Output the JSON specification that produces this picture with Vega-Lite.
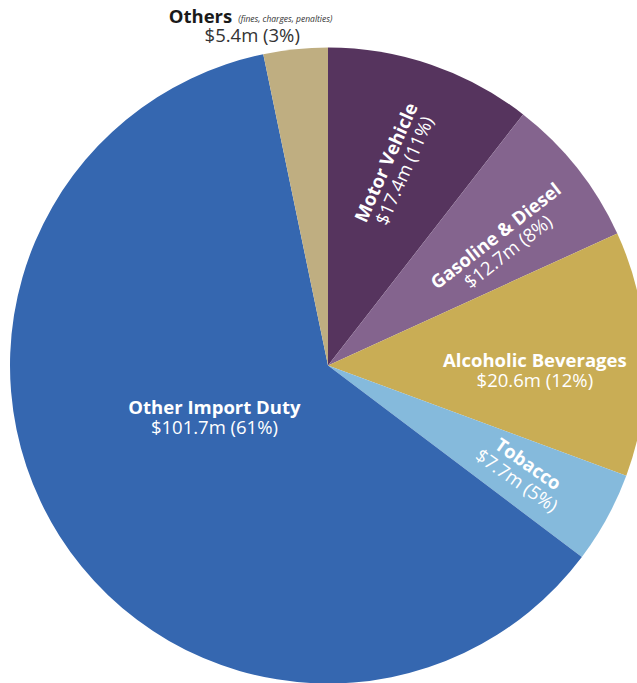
{
  "$schema": "https://vega.github.io/schema/vega-lite/v6.json",
  "autosize": {"type": "none"},
  "width": 618,
  "height": 635,
  "padding": {"left": 19, "top": 48, "right": 0, "bottom": 0},
  "background": "white",
  "config": {"view": {"stroke": null}, "text": {"font": "Open Sans", "baseline": "middle", "align": "center"}},
  "data": {"values": [
    {"category": "Motor Vehicle", "value": 17.4, "label": "$17.4m (11%)", "order": 1},
    {"category": "Gasoline & Diesel", "value": 12.7, "label": "$12.7m (8%)", "order": 2},
    {"category": "Alcoholic Beverages", "value": 20.6, "label": "$20.6m (12%)", "order": 3},
    {"category": "Tobacco", "value": 7.7, "label": "$7.7m (5%)", "order": 4},
    {"category": "Other Import Duty", "value": 101.7, "label": "$101.7m (61%)", "order": 5},
    {"category": "Others", "value": 5.4, "label": "$5.4m (3%)", "order": 6}
  ]},
  "encoding": {
    "theta": {"field": "value", "type": "quantitative", "stack": true},
    "order": {"field": "order", "type": "quantitative"}
  },
  "layer": [
    {
      "mark": {"type": "arc", "radius": 318, "stroke": null},
      "encoding": {
        "color": {"field": "category", "type": "nominal", "legend": null,
          "scale": {"domain": ["Motor Vehicle", "Gasoline & Diesel", "Alcoholic Beverages", "Tobacco", "Other Import Duty", "Others"],
                    "range": ["#56345E", "#84648E", "#C9AD55", "#85BADC", "#3567B0", "#BFAE81"]}}
      }
    },
    {
      "mark": {"type": "text", "radius": 214, "angle": -66, "dx": -4, "dy": -10, "fontSize": 18.5, "fontWeight": "bold", "fill": "white"},
      "encoding": {"text": {"condition": {"test": "datum.category === 'Motor Vehicle'", "field": "category"}, "value": ""}}
    },
    {
      "mark": {"type": "text", "radius": 214, "angle": -66, "dx": -4, "dy": 10, "fontSize": 18.5, "fill": "white"},
      "encoding": {"text": {"condition": {"test": "datum.category === 'Motor Vehicle'", "field": "label"}, "value": ""}}
    },
    {
      "mark": {"type": "text", "radius": 220, "angle": -38, "dx": -8, "dy": 3, "fontSize": 18.5, "fontWeight": "bold", "fill": "white"},
      "encoding": {"text": {"condition": {"test": "datum.category === 'Gasoline & Diesel'", "field": "category"}, "value": ""}}
    },
    {
      "mark": {"type": "text", "radius": 220, "angle": -38, "dx": -8, "dy": 23, "fontSize": 18.5, "fill": "white"},
      "encoding": {"text": {"condition": {"test": "datum.category === 'Gasoline & Diesel'", "field": "label"}, "value": ""}}
    },
    {
      "mark": {"type": "text", "radius": 207, "dy": 3, "fontSize": 18.5, "fontWeight": "bold", "fill": "white"},
      "encoding": {"text": {"condition": {"test": "datum.category === 'Alcoholic Beverages'", "field": "category"}, "value": ""}}
    },
    {
      "mark": {"type": "text", "radius": 207, "dy": 23, "fontSize": 18.5, "fill": "white"},
      "encoding": {"text": {"condition": {"test": "datum.category === 'Alcoholic Beverages'", "field": "label"}, "value": ""}}
    },
    {
      "mark": {"type": "text", "radius": 222, "angle": 35, "dy": -9, "fontSize": 18.5, "fontWeight": "bold", "fill": "white"},
      "encoding": {"text": {"condition": {"test": "datum.category === 'Tobacco'", "field": "category"}, "value": ""}}
    },
    {
      "mark": {"type": "text", "radius": 222, "angle": 35, "dy": 11, "fontSize": 18.5, "fill": "white"},
      "encoding": {"text": {"condition": {"test": "datum.category === 'Tobacco'", "field": "label"}, "value": ""}}
    },
    {
      "mark": {"type": "text", "radius": 125, "dx": -8, "dy": -24, "fontSize": 18.5, "fontWeight": "bold", "fill": "white"},
      "encoding": {"text": {"condition": {"test": "datum.category === 'Other Import Duty'", "field": "category"}, "value": ""}}
    },
    {
      "mark": {"type": "text", "radius": 125, "dx": -8, "dy": -4, "fontSize": 18.5, "fill": "white"},
      "encoding": {"text": {"condition": {"test": "datum.category === 'Other Import Duty'", "field": "label"}, "value": ""}}
    },
    {
      "mark": {"type": "text", "radius": 340, "dx": -61, "dy": -10, "align": "right", "fontSize": 18.5, "fontWeight": "bold", "fill": "#1a1a1a"},
      "encoding": {"text": {"condition": {"test": "datum.category === 'Others'", "field": "category"}, "value": ""}}
    },
    {
      "mark": {"type": "text", "radius": 340, "dx": -55, "dy": -8, "align": "left", "fontSize": 8.5, "fontStyle": "italic", "fill": "#333333"},
      "encoding": {"text": {"condition": {"test": "datum.category === 'Others'", "value": "(fines, charges, penalties)"}, "value": ""}}
    },
    {
      "mark": {"type": "text", "radius": 340, "dx": -41, "dy": 9, "fontSize": 18.5, "fill": "#333333"},
      "encoding": {"text": {"condition": {"test": "datum.category === 'Others'", "field": "label"}, "value": ""}}
    }
  ]
}
